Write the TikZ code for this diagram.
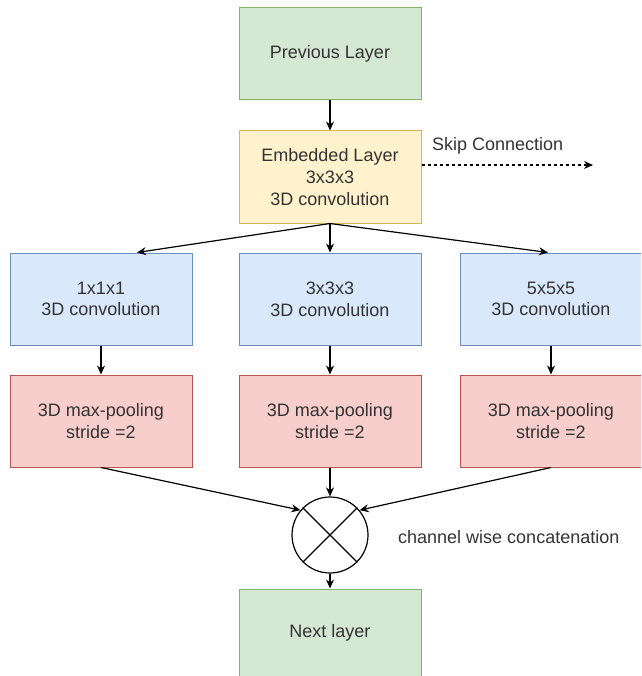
\documentclass[tikz,border=0pt]{standalone}
\usepackage{fontspec}
\setmainfont{Liberation Sans}
\usepackage{tikz}
\usetikzlibrary{arrows.meta}

\definecolor{greenfill}{HTML}{D5E8D4}
\definecolor{greenline}{HTML}{82B366}
\definecolor{yellowfill}{HTML}{FFF2CC}
\definecolor{yellowline}{HTML}{D6B656}
\definecolor{bluefill}{HTML}{DAE8FC}
\definecolor{blueline}{HTML}{6C8EBF}
\definecolor{redfill}{HTML}{F8CECC}
\definecolor{redline}{HTML}{B85450}
\definecolor{textgray}{HTML}{333333}

\tikzset{
  layerbox/.style={rectangle,minimum width=182pt,minimum height=92pt,inner sep=0pt,
    line width=1pt,align=center,text=textgray,font=\fontsize{18}{21.7}\selectfont},
  greenbox/.style={layerbox,fill=greenfill,draw=greenline},
  yellowbox/.style={layerbox,fill=yellowfill,draw=yellowline},
  bluebox/.style={layerbox,fill=bluefill,draw=blueline},
  redbox/.style={layerbox,fill=redfill,draw=redline},
  flow/.style={line width=1.2pt,-{Stealth[length=9pt,width=8pt]}},
  note/.style={text=textgray,font=\fontsize{18}{21.7}\selectfont,inner sep=0pt}
}

\begin{document}
\begin{tikzpicture}[x=1pt,y=-1pt]
\useasboundingbox (0,0) rectangle (641,676);
\clip (0,0) rectangle (641,676);

\node[greenbox] (prev) at (330,54) {Previous Layer};
\node[yellowbox] (emb) at (330,177) {Embedded Layer\\3x3x3\\3D convolution};

\node[bluebox] (conv1) at (101,299) {1x1x1\\3D convolution};
\node[bluebox] (conv3) at (330,299) {3x3x3\\3D convolution};
\node[bluebox] (conv5) at (551,299) {5x5x5\\3D convolution};

\node[redbox] (pool1) at (101,421) {3D max-pooling\\stride =2};
\node[redbox] (pool3) at (330,421) {3D max-pooling\\stride =2};
\node[redbox] (pool5) at (551,421) {3D max-pooling\\stride =2};

\node[circle,draw=black,line width=1.2pt,minimum size=76pt,inner sep=0pt] (concat) at (330,535) {};
\draw[line width=1.2pt] (concat.45) -- (concat.225);
\draw[line width=1.2pt] (concat.135) -- (concat.315);
\node[note,anchor=west] (concatlabel) at (398,537) {channel wise concatenation};

\node[greenbox,minimum height=100pt] (next) at (330,639) {};
\node[note] (nextlabel) at (330,633) {Next layer};

% skip connection
\coordinate (skipend) at (593,165);
\draw[line width=1.2pt,dashed,-{Stealth[length=9pt,width=8pt]}] ([yshift=12pt]emb.east) -- (skipend);
\node[note,anchor=west] (skiplabel) at (432,146) {Skip Connection};

\draw[flow] (prev) -- (emb);
\draw[flow] (emb.south) -- ([xshift=36pt]conv1.north);
\draw[flow] (emb.south) -- (conv3.north);
\draw[flow] (emb.south) -- ([xshift=-3pt]conv5.north);

\draw[flow] (conv1) -- (pool1);
\draw[flow] (conv3) -- (pool3);
\draw[flow] (conv5) -- (pool5);

\draw[flow] (pool1.south) -- (concat.140);
\draw[flow] (pool3.south) -- (concat.north);
\draw[flow] (pool5.south) -- (concat.40);
\draw[flow] (concat.south) -- (next.north);
\end{tikzpicture}
\end{document}
